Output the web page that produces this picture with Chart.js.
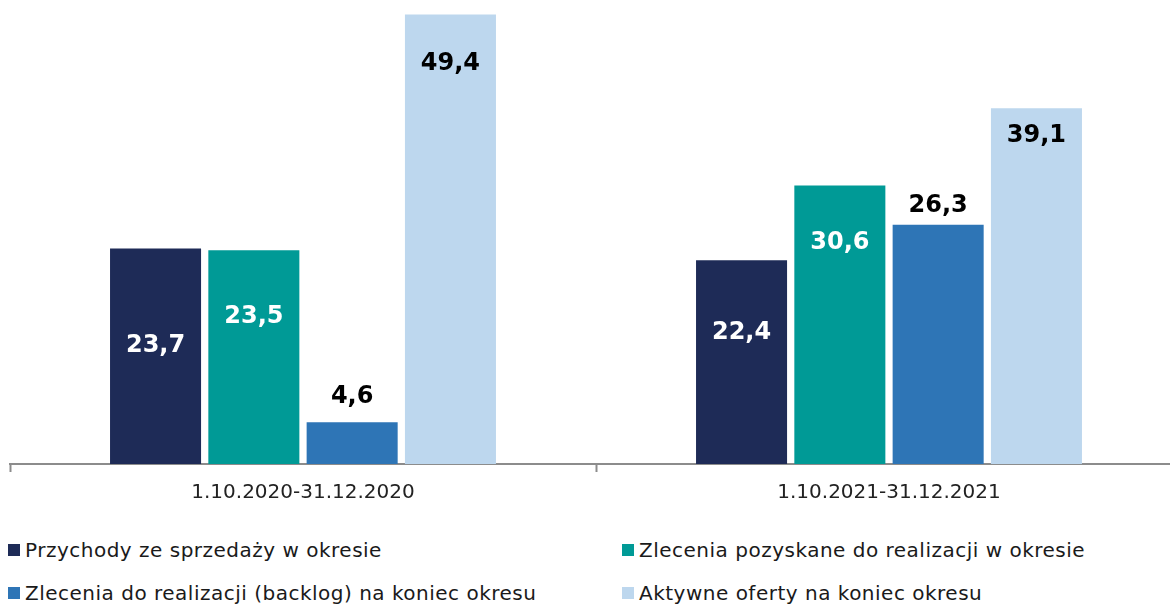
<!DOCTYPE html>
<html lang="pl">
<head>
<meta charset="utf-8">
<script src="https://cdn.jsdelivr.net/npm/chart.js@4"></script>
<style>
    html, body { margin: 0; padding: 0; background: #fff; overflow: hidden; }
    #wrap { position: relative; width: 1182px; height: 605px; }
    #box { position: absolute; left: 0; top: 0; width: 1182px; height: 520px; }
    .legend { position: absolute; display: flex; align-items: center; font-family: "DejaVu Sans", sans-serif; font-size: 20px; letter-spacing: 0.5px; color: #1a1a1a; white-space: nowrap; }
    .legend span.sw { width: 12px; height: 12px; margin-right: 5px; display: inline-block; }
</style>
</head>
<body>
<div id="wrap">
    <div id="box"><canvas id="chart"></canvas></div>
    <div id="legend"></div>
</div>
<script>
// Data
const periods = ['1.10.2020-31.12.2020', '1.10.2021-31.12.2021'];
const seriesNames = [
    'Przychody ze sprzedaży w okresie',
    'Zlecenia pozyskane do realizacji w okresie',
    'Zlecenia do realizacji (backlog) na koniec okresu',
    'Aktywne oferty na koniec okresu'
];
const revenue = [23.7, 22.4];
const ordersWon = [23.5, 30.6];
const backlog = [4.6, 26.3];
const activeOffers = [49.4, 39.1];

// Styling
const colors = ['#1E2B57', '#009A96', '#2E75B6', '#BDD7EE'];
const labelColors = ['#ffffff', '#ffffff', '#000000', '#000000'];
// label centre offset in px from the bar top (negative = above the bar)
const labelOffsets = [[97, 73], [67, 57], [-25, -19], [49, 27]];

const values = [revenue, ordersWon, backlog, activeOffers];

const barLabels = {
    id: 'barLabels',
    afterDatasetsDraw(chart) {
        const ctx = chart.ctx;
        ctx.save();
        ctx.font = 'bold 24px "DejaVu Sans", sans-serif';
        ctx.textAlign = 'center';
        ctx.textBaseline = 'middle';
        chart.data.datasets.forEach((ds, i) => {
            chart.getDatasetMeta(i).data.forEach((bar, j) => {
                ctx.fillStyle = labelColors[i];
                const txt = ds.data[j].toFixed(1).replace('.', ',');
                ctx.fillText(txt, bar.x, bar.y + labelOffsets[i][j]);
            });
        });
        ctx.restore();
    }
};

const ctx = document.getElementById('chart').getContext('2d');
new Chart(ctx, {
    type: 'bar',
    data: {
        labels: periods,
        datasets: seriesNames.map((name, i) => ({
            label: name,
            data: values[i],
            backgroundColor: colors[i],
            categoryPercentage: 0.671,
            barPercentage: 0.926
        }))
    },
    options: {
        responsive: true,
        maintainAspectRatio: false,
        animation: false,
        layout: { padding: { left: 10, top: 0, right: 0, bottom: 0 } },
        plugins: {
            legend: { display: false },
            tooltip: { enabled: false }
        },
        scales: {
            x: {
                grid: {
                    offset: true,
                    drawOnChartArea: false,
                    drawTicks: true,
                    tickLength: 8,
                    tickWidth: 2,
                    color: '#8c8c8c'
                },
                border: { display: true, color: '#8c8c8c', width: 2 },
                ticks: {
                    color: '#222',
                    padding: 9,
                    font: { family: '"DejaVu Sans", sans-serif', size: 20 }
                },
                afterFit(scale) { scale.height = 56; }
            },
            y: {
                display: false,
                min: 0,
                max: 51
            }
        }
    },
    plugins: [barLabels]
});

// Legend in two columns
const legendPos = [[8, 550], [622, 550], [8, 593], [622, 593]];
const legend = document.getElementById('legend');
seriesNames.forEach((name, i) => {
    const item = document.createElement('div');
    item.className = 'legend';
    item.style.left = legendPos[i][0] + 'px';
    item.style.top = (legendPos[i][1] - 12) + 'px';
    item.innerHTML = '<span class="sw" style="background:' + colors[i] + '"></span>' + name;
    legend.appendChild(item);
});
</script>
</body>
</html>
